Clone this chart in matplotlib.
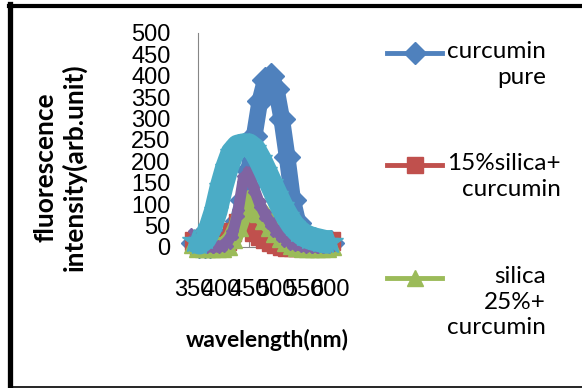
import matplotlib.pyplot as plt
from matplotlib.lines import Line2D

# emission spectra, 10 nm steps
wavelength = [350, 360, 370, 380, 390, 400, 410, 420, 430, 440, 450, 460, 470,
              480, 490, 500, 510, 520, 530, 540, 550, 560, 570, 580, 590, 600]

curcumin_pure = [10, 5, 5, 5, 8, 12, 20, 35, 60, 110, 180, 260, 340,
                 390, 400, 370, 300, 210, 110, 55, 30, 18, 12, 10, 8, 10]
silica15 = [15, 2, 0, 0, 0, 5, 15, 35, 55, 58, 48, 36, 26,
            18, 12, 7, 3, 0, 0, 0, 0, 0, 0, 0, 0, 15]
silica25 = [10, 0, 0, 0, 0, 0, 5, 20, 48, 85, 110, 98, 82,
            65, 50, 36, 24, 14, 7, 3, 1, 0, 0, 0, 0, 5]
series4 = [30, 15, 5, 0, 0, 2, 10, 30, 80, 160, 175, 135, 100,
           75, 55, 38, 25, 15, 8, 4, 2, 1, 0, 0, 0, 5]
series5 = [15, 10, 20, 45, 85, 140, 185, 220, 235, 238, 238, 228, 205,
           178, 150, 122, 95, 72, 52, 38, 28, 22, 18, 15, 12, 12]

legend_labels = ["curcumin\npure", "15%silica+\ncurcumin", "silica\n25%+\ncurcumin"]
x_ticks = [350, 400, 450, 500, 550, 600]
y_ticks = [0, 50, 100, 150, 200, 250, 300, 350, 400, 450, 500]

colors = ["#4F81BD", "#C0504D", "#9BBB59", "#8064A2", "#4BACC6"]
markers = ["D", "s", "^", "X", "*"]
widths = [12, 12, 14, 8, 17]

W, H = 582, 388
fig = plt.figure(figsize=(W / 100, H / 100), dpi=100)


def px(x, y):
    return x / W, 1 - y / H


ax = fig.add_axes([194 / W, 1 - 247 / H, 137 / W, 214 / H])
ax.set_xlim(350, 600)
ax.set_ylim(0, 500)

series = [curcumin_pure, silica15, silica25, series4, series5]
for i, vals in enumerate(series):
    ax.plot(wavelength, vals, color=colors[i], lw=widths[i], marker=markers[i],
            markersize=widths[i] + 1, markeredgecolor=colors[i],
            solid_joinstyle="round", solid_capstyle="butt", clip_on=False,
            zorder=3 + i)

ax.set_axisbelow(True)
for s in ["top", "right"]:
    ax.spines[s].set_visible(False)
ax.spines["left"].set_position(("data", 358))
ax.spines["left"].set_color("#868686")
ax.spines["bottom"].set_color("#868686")
ax.spines["bottom"].set_bounds(358, 600)

ax.set_xticks(x_ticks)
ax.set_xticklabels([str(t) for t in x_ticks])
ax.set_yticks(y_ticks)
ax.set_yticklabels([str(t) for t in y_ticks])
ax.tick_params(axis="x", direction="in", length=7, color="#868686",
               pad=23, labelsize=17)
ax.tick_params(axis="y", length=0, pad=20, labelsize=17)
for lab in ax.get_xticklabels() + ax.get_yticklabels():
    lab.set_fontfamily("Liberation Sans")

fig.text(*px(267, 340), "wavelength(nm)", ha="center", va="center",
         fontsize=16.5, fontweight="bold", family="Lato")
fig.text(*px(60, 167), "fluorescence\nintensity(arb.unit)", ha="center",
         va="center", rotation=90, fontsize=19, fontweight="bold",
         family="Lato", linespacing=1.2)

# legend, drawn by hand so the handle lines up with the first text line
legend_y = [53, 165, 278]
for i, lab in enumerate(legend_labels):
    y = legend_y[i]
    fig.add_artist(Line2D([387 / W, 442 / W], [1 - y / H, 1 - y / H],
                          color=colors[i], lw=3.5, transform=fig.transFigure))
    fig.add_artist(Line2D([415 / W], [1 - y / H], color=colors[i],
                          marker=markers[i], markersize=11,
                          transform=fig.transFigure))
    fig.text(*px(447, y - 12), lab, ha="left", va="top", fontsize=17.5,
             family="Lato", multialignment="right", linespacing=1.27)

# chart frame
frame = dict(color="black", transform=fig.transFigure)
fig.add_artist(Line2D([10.5 / W, 10.5 / W], [1 - 4 / H, 1 - 387 / H], lw=3.8, **frame))
fig.add_artist(Line2D([8.5 / W, 1.0], [1 - 5.5 / H, 1 - 5.5 / H], lw=3, **frame))
fig.add_artist(Line2D([10 / W, 1.0], [1 - 386.5 / H, 1 - 386.5 / H], lw=1.2, **frame))

fig.savefig("out.png", dpi=100)
